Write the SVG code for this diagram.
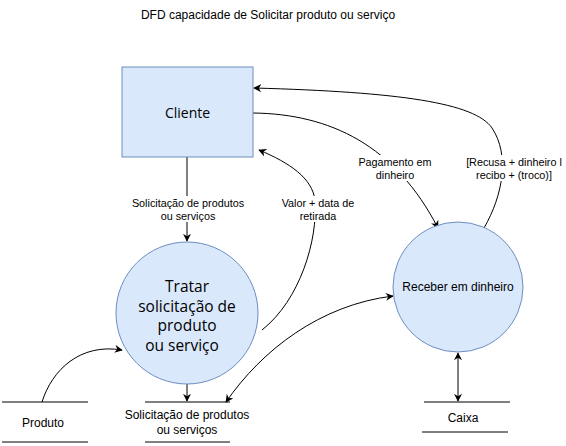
<svg xmlns="http://www.w3.org/2000/svg" width="566" height="446" viewBox="0 0 566 446">
<defs>
<marker id="arr" viewBox="0 0 10 10" refX="9" refY="5" markerWidth="8" markerHeight="8" orient="auto-start-reverse" markerUnits="userSpaceOnUse">
<path d="M0,0 L10,5 L0,10 L3,5 Z" fill="#000"/>
</marker>
<style>
.node{fill:#dae8fc;stroke:#6c8ebf;stroke-width:1}
.edge{fill:none;stroke:#000;stroke-width:1}
.st{stroke:#000;stroke-width:1}
.lbl{font-family:"Liberation Sans",Arial,sans-serif;font-size:10.8px;fill:#000;text-anchor:middle}
.sl{font-family:"Liberation Sans",Arial,sans-serif;font-size:12px;fill:#000;text-anchor:middle}
.big{font-family:"Open Sans","Noto Sans",sans-serif;fill:#000;text-anchor:middle}
.bg{fill:#fff}
</style>
</defs>
<rect width="566" height="446" fill="#fff"/>
<text x="268" y="19" class="sl">DFD capacidade de Solicitar produto ou serviço</text>

<g id="connectors">
<path class="edge" d="M187,157 L187,241" marker-end="url(#arr)"/>
<path class="edge" d="M262,330 C300,300 318,240 315,200 C312,178 290,163 259,150" marker-end="url(#arr)"/>
<path class="edge" d="M253,113 C330,114 395,145 438,228" marker-end="url(#arr)"/>
<path class="edge" d="M484,228 C503,195 510,155 492,128 C475,103 400,92 254,88" marker-end="url(#arr)"/>
<path class="edge" d="M187,384 L187,401" marker-end="url(#arr)"/>
<path class="edge" d="M42,402 C52,370 80,343 122,350" marker-end="url(#arr)"/>
<path class="edge" d="M226,402 C262,350 320,305 393,296" marker-start="url(#arr)" marker-end="url(#arr)"/>
<path class="edge" d="M458,353 L458,401" marker-start="url(#arr)" marker-end="url(#arr)"/>
<g id="edge-labels">
<rect class="bg" x="130" y="196" width="114" height="26"/>
<text class="lbl" x="188" y="207">Solicitação de produtos</text>
<text class="lbl" x="188" y="220">ou serviços</text>
<rect class="bg" x="272" y="196" width="92" height="26"/>
<text class="lbl" x="318" y="207">Valor + data de</text>
<text class="lbl" x="318" y="220">retirada</text>
<rect class="bg" x="355" y="155" width="80" height="26"/>
<text class="lbl" x="395" y="166">Pagamento em</text>
<text class="lbl" x="395" y="179">dinheiro</text>
<rect class="bg" x="462" y="155" width="104" height="26"/>
<text class="lbl" x="514" y="166">[Recusa + dinheiro l</text>
<text class="lbl" x="514" y="179">recibo + (troco)]</text>
</g>
</g>

<g id="cliente">
<rect class="node" x="122" y="67" width="131" height="90"/>
<text class="big" x="187.5" y="118" style="font-size:14px">Cliente</text>
</g>

<g id="tratar">
<circle class="node" cx="187" cy="313" r="71"/>
<text class="big" x="187" y="292" style="font-size:15.5px">Tratar</text>
<text class="big" x="187" y="311.5" style="font-size:15.5px">solicitação de</text>
<text class="big" x="187" y="331" style="font-size:15.5px">produto</text>
<text class="big" x="182" y="350.5" style="font-size:15.5px">ou serviço</text>
</g>

<g id="receber">
<circle class="node" cx="458" cy="287" r="65"/>
<text class="sl" x="458" y="291">Receber em dinheiro</text>
</g>

<g id="produto">
<line class="st" x1="2" y1="402" x2="88" y2="402"/>
<line class="st" x1="2" y1="442" x2="88" y2="442"/>
<text class="sl" x="43" y="427">Produto</text>
</g>

<g id="solicitacao">
<line class="st" x1="145" y1="402" x2="230" y2="402"/>
<line class="st" x1="145" y1="442" x2="230" y2="442"/>
<text class="sl" x="187" y="419">Solicitação de produtos</text>
<text class="sl" x="187" y="434">ou serviços</text>
</g>

<g id="caixa">
<line class="st" x1="424" y1="402" x2="510" y2="402"/>
<line class="st" x1="422" y1="432" x2="508" y2="432"/>
<text class="sl" x="463" y="422">Caixa</text>
</g>
</svg>
